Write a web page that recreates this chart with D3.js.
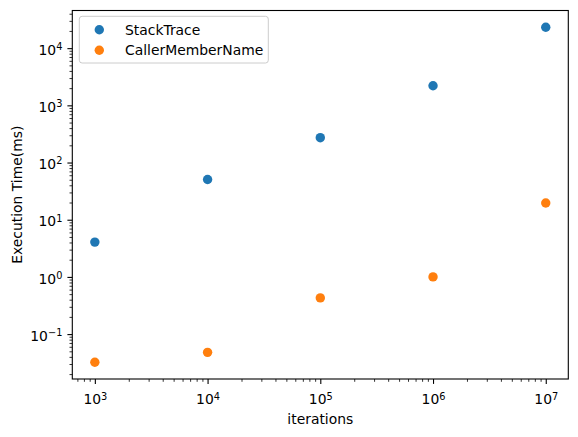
<!DOCTYPE html>
<html>
<head>
<meta charset="utf-8">
<script src="https://cdn.jsdelivr.net/npm/d3@7"></script>
<style>
  body { margin: 0; background: #fff; }
  svg { display: block; font-family: "DejaVu Sans", sans-serif; }
</style>
</head>
<body>
<svg id="chart" width="578" height="437"></svg>
<script>
// data
var iterations = [1e3, 1e4, 1e5, 1e6, 1e7];
var stackTrace = [4.06, 50.5, 272, 2200, 23200];
var callerMemberName = [0.0322, 0.048, 0.43, 1.0, 19.6];
var seriesNames = ["StackTrace", "CallerMemberName"];
var seriesColours = ["#1f77b4", "#ff7f0e"];
var xTickValues = [1e3, 1e4, 1e5, 1e6, 1e7];
var yTickValues = [1e-1, 1e0, 1e1, 1e2, 1e3, 1e4];

var svg = d3.select("#chart");
var plotLeft = 72.3, plotRight = 568.3, plotTop = 10.5, plotBottom = 379;

// matplotlib style 5% padding in log space
function logPad(vals) {
	var lo = Math.log10(d3.min(vals)), hi = Math.log10(d3.max(vals));
	var p = (hi - lo) * 0.05;
	return [Math.pow(10, lo - p), Math.pow(10, hi + p)];
}

var x = d3.scaleLog().domain(logPad(iterations)).range([plotLeft, plotRight]);
var y = d3.scaleLog().domain(logPad(stackTrace.concat(callerMemberName))).range([plotBottom, plotTop]);

function isMajor(v) {
	var l = Math.log10(v);
	return Math.abs(l - Math.round(l)) < 1e-9;
}

function supLabel(sel) {
	sel.each(function(d) {
		var t = d3.select(this);
		var e = Math.round(Math.log10(d));
		t.text(null);
		t.append("tspan").text("10");
		t.append("tspan")
			.attr("dy", "-0.5em")
			.attr("font-size", "9.8px")
			.text(e < 0 ? "\u2212" + (-e) : e);
	});
}

// minor ticks
var xMinor = x.ticks().filter(d => !isMajor(d));
var yMinor = y.ticks().filter(d => !isMajor(d));

svg.append("g")
	.attr("transform", `translate(0,${plotBottom})`)
	.call(d3.axisBottom(x).tickValues(xMinor).tickSize(2.8).tickFormat(""))
	.call(g => g.select(".domain").remove())
	.call(g => g.selectAll("line").attr("stroke-width", 0.8));

svg.append("g")
	.attr("transform", `translate(${plotLeft},0)`)
	.call(d3.axisLeft(y).tickValues(yMinor).tickSize(2.8).tickFormat(""))
	.call(g => g.select(".domain").remove())
	.call(g => g.selectAll("line").attr("stroke-width", 0.8));

// major ticks
svg.append("g")
	.attr("transform", `translate(0,${plotBottom})`)
	.call(d3.axisBottom(x).tickValues(xTickValues).tickSize(4.9).tickPadding(6))
	.call(g => g.select(".domain").remove())
	.call(g => g.selectAll("line").attr("stroke-width", 1.1))
	.call(g => g.selectAll("text")
		.attr("font-size", "13.9px")
		.attr("font-family", "DejaVu Sans")
		.attr("fill", "#000")
		.attr("dy", "1.05em")
		.call(supLabel));

svg.append("g")
	.attr("transform", `translate(${plotLeft},0)`)
	.call(d3.axisLeft(y).tickValues(yTickValues).tickSize(4.9).tickPadding(5))
	.call(g => g.select(".domain").remove())
	.call(g => g.selectAll("line").attr("stroke-width", 1.1))
	.call(g => g.selectAll("text")
		.attr("font-size", "13.9px")
		.attr("font-family", "DejaVu Sans")
		.attr("fill", "#000")
		.attr("dy", "0.45em")
		.call(supLabel));

// frame
svg.append("rect")
	.attr("x", plotLeft).attr("y", plotTop)
	.attr("width", plotRight - plotLeft).attr("height", plotBottom - plotTop)
	.attr("fill", "none")
	.attr("stroke", "#000")
	.attr("stroke-width", 1.1);

// points
var series = [stackTrace, callerMemberName];
series.forEach(function(vals, k) {
	svg.append("g")
		.selectAll("circle")
		.data(vals)
		.join("circle")
		.attr("cx", (d, i) => x(iterations[i]))
		.attr("cy", d => y(d))
		.attr("r", 4.7)
		.attr("fill", seriesColours[k]);
});

// axis labels
svg.append("text")
	.attr("x", (plotLeft + plotRight) / 2)
	.attr("y", 424)
	.attr("text-anchor", "middle")
	.attr("font-size", "13.9px")
	.text("iterations");

svg.append("text")
	.attr("transform", `translate(22,${(plotTop + plotBottom) / 2}) rotate(-90)`)
	.attr("text-anchor", "middle")
	.attr("font-size", "13.9px")
	.text("Execution Time(ms)");

// legend
var legend = svg.append("g");
legend.append("rect")
	.attr("x", 79.3).attr("y", 16.3)
	.attr("width", 189).attr("height", 46.7)
	.attr("rx", 2.8)
	.attr("fill", "#fff")
	.attr("fill-opacity", 0.8)
	.attr("stroke", "#cccccc")
	.attr("stroke-width", 1);

legend.selectAll("g")
	.data(seriesNames)
	.join("g")
	.attr("transform", (d, i) => `translate(99.3,${29.7 + i * 20.6})`)
	.call(g => g.append("circle")
		.attr("r", 4.7)
		.attr("fill", (d, i) => seriesColours[i]))
	.call(g => g.append("text")
		.attr("x", 25.7)
		.attr("dy", "0.36em")
		.attr("font-size", "13.9px")
		.text(d => d));
</script>
</body>
</html>
